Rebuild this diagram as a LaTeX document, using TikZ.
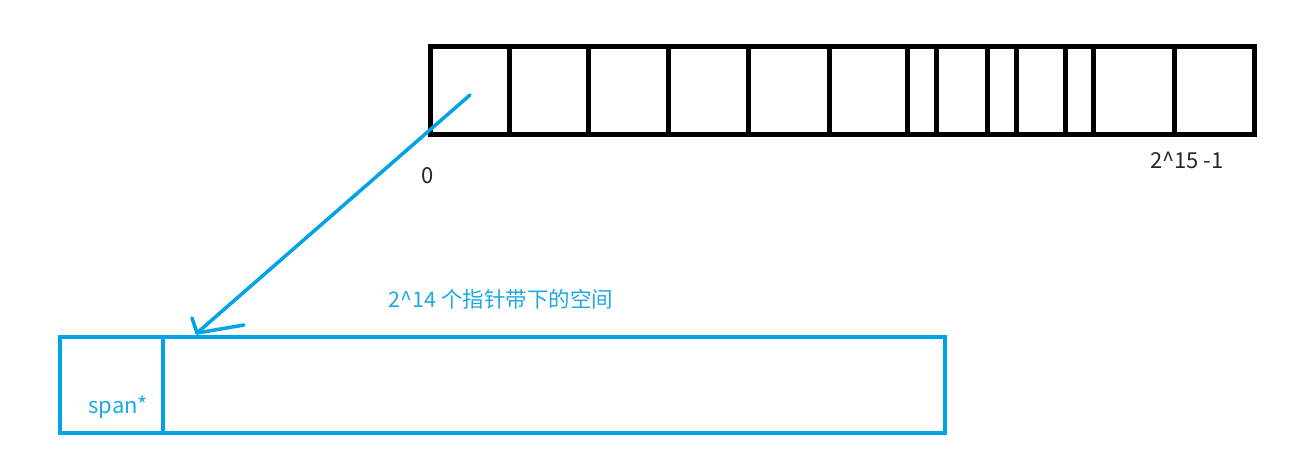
\documentclass[tikz,border=0pt]{standalone}
\usepackage{fontspec}
\setmainfont{Noto Sans CJK SC}
\usepackage{tikz}
\usetikzlibrary{positioning, calc}

\definecolor{penblue}{RGB}{0,162,232}
\definecolor{txtblue}{RGB}{30,168,228}

\begin{document}
\begin{tikzpicture}[
      x=1pt, y=-1pt,
      cellrow/.style={rectangle, draw=black, line width=5pt, inner sep=0pt},
      bluebox/.style={rectangle, draw=penblue, line width=4.5pt, inner sep=0pt},
      pen/.style={draw=penblue, line width=3.5pt, line cap=round},
      lbl/.style={font=\fontsize{22}{25}\selectfont, inner sep=0pt},
    ]
      \useasboundingbox (0,0) rectangle (1305,470);

      % page table row
      \node[cellrow, minimum width=824pt, minimum height=88pt] (arr) at (842,91) {};
      \foreach \x in {509,588,668,748,829,907,936,987,1016,1065,1093,1174}
        \draw[line width=5pt] (\x,47) -- (\x,135);
      \node[lbl, text=black!85] (zero) at (428,176) {0};
      \node[lbl, text=black!85] (last) at (1187,160) {2\textasciicircum 15 -1};

      % span area
      \node[bluebox, minimum width=885pt, minimum height=96pt] (area) at (502.5,385) {};
      \node[bluebox, minimum width=103pt, minimum height=96pt] (spancell) at (111.5,385) {};
      \node[lbl, text=txtblue] (spanlbl) at (118,407) {span*};
      \node[lbl, text=txtblue, font=\fontsize{21.5}{24}\selectfont] (arealbl) at (501,299) {2\textasciicircum 14 个指针带下的空间};

      % pointer
      \coordinate (ptr) at (470,95);
      \coordinate (tip) at (197,333);
      \draw[pen] (ptr) -- (tip);
      \draw[pen] (tip) -- ++(-5,-15);
      \draw[pen] (tip) -- ++(47,-8);
    \end{tikzpicture}
\end{document}
